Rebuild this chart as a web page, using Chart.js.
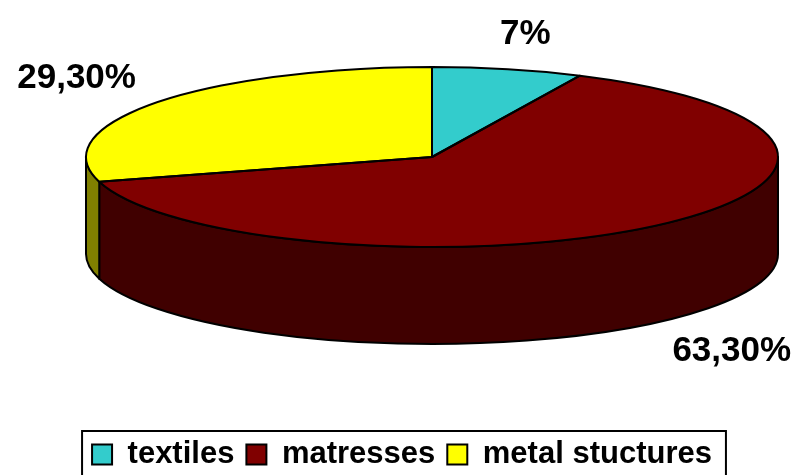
<!DOCTYPE html>
<html>
<head>
<meta charset="utf-8">
<script src="https://cdn.jsdelivr.net/npm/chart.js@4.4.1/dist/chart.umd.min.js"></script>
<style>
  html, body { margin: 0; padding: 0; background: #fff; }
  #wrap { width: 804px; height: 475px; position: relative; }
</style>
</head>
<body>
<div id="wrap"><canvas id="c"></canvas></div>
<script>
const labels = ['textiles', 'matresses', 'metal stuctures'];
const shares = [7, 63.3, 29.3];
const shareText = ['7%', '63,30%', '29,30%'];
const topColors = ['#33cccc', '#800000', '#ffff00'];
const sideColors = ['#1a6666', '#400000', '#808000'];

// 3d disc geometry (screen px)
const CX = 432, CY = 157, RX = 346, RY = 90, DEPTH = 97;
const LABEL_GAP_X = 55, LABEL_GAP_Y = 26;
const labelNudge = [[0, 2], [2, 0], [12, -2]];
const FONT = '"Liberation Sans", Arial, sans-serif';

// squash the library's pie into an ellipse and give it a side wall
const pie3d = {
  id: 'pie3d',
  beforeDatasetsDraw(chart) {
    const ctx = chart.ctx;
    const arcs = chart.getDatasetMeta(0).data;
    ctx.save();
    ctx.lineWidth = 2;
    ctx.strokeStyle = '#000';
    ctx.lineJoin = 'round';
    arcs.forEach((arc, i) => {
      const s = arc.startAngle, e = arc.endAngle;
      for (let k = -1; k <= 1; k++) {
        const lo = Math.max(s, 2 * Math.PI * k), hi = Math.min(e, 2 * Math.PI * k + Math.PI);
        if (hi <= lo) continue;
        ctx.beginPath();
        ctx.ellipse(CX, CY, RX, RY, 0, lo, hi);
        ctx.lineTo(CX + RX * Math.cos(hi), CY + DEPTH + RY * Math.sin(hi));
        ctx.ellipse(CX, CY + DEPTH, RX, RY, 0, hi, lo, true);
        ctx.closePath();
        ctx.fillStyle = sideColors[i];
        ctx.fill();
        ctx.stroke();
      }
    });
    ctx.restore();
    const a = arcs[0];
    ctx.save();
    ctx.translate(CX, CY);
    ctx.scale(RX / a.outerRadius, RY / a.outerRadius);
    ctx.translate(-a.x, -a.y);
  },
  afterDatasetsDraw(chart) {
    const ctx = chart.ctx;
    ctx.restore();
    const arcs = chart.getDatasetMeta(0).data;
    ctx.save();
    ctx.lineWidth = 2;
    ctx.strokeStyle = '#000';
    ctx.lineJoin = 'round';
    arcs.forEach(arc => {
      ctx.beginPath();
      ctx.moveTo(CX, CY);
      ctx.ellipse(CX, CY, RX, RY, 0, arc.startAngle, arc.endAngle);
      ctx.closePath();
      ctx.stroke();
    });
    ctx.font = 'bold 35px ' + FONT;
    ctx.fillStyle = '#000';
    ctx.textAlign = 'center';
    ctx.textBaseline = 'middle';
    arcs.forEach((arc, i) => {
      const m = (arc.startAngle + arc.endAngle) / 2;
      const c = Math.cos(m), s = Math.sin(m);
      const w = ctx.measureText(shareText[i]).width;
      const x = CX + RX * c + c * (LABEL_GAP_X + w / 2) + labelNudge[i][0];
      const y = CY + RY * s + (s > 0 ? DEPTH : 0) + s * (LABEL_GAP_Y + 12) + labelNudge[i][1];
      ctx.fillText(shareText[i], x, y);
    });
    ctx.restore();
  }
};

const legendFrame = {
  id: 'legendFrame',
  afterDraw(chart) {
    const boxes = chart.legend.legendHitBoxes;
    if (!boxes || !boxes.length) return;
    const ctx = chart.ctx;
    const left = Math.min(...boxes.map(b => b.left)) - 10;
    const right = Math.max(...boxes.map(b => b.left + b.width)) + 14;
    const top = Math.min(...boxes.map(b => b.top)) - 8;
    ctx.save();
    ctx.lineWidth = 2;
    ctx.strokeStyle = '#000';
    ctx.strokeRect(left, top, right - left, chart.height - top + 10);
    ctx.restore();
  }
};

new Chart(document.getElementById('c'), {
  type: 'pie',
  data: {
    labels: labels,
    datasets: [{
      data: shares,
      backgroundColor: topColors,
      borderWidth: 0,
      clip: false,
    }],
  },
  options: {
    responsive: true,
    maintainAspectRatio: false,
    animation: false,
    events: [],
    layout: { padding: { bottom: -5 } },
    plugins: {
      tooltip: { enabled: false },
      legend: {
        position: 'bottom',
        labels: {
          color: '#000',
          font: { family: FONT, size: 31, weight: 'bold' },
          boxWidth: 20,
          boxHeight: 20,
          padding: 12,
          generateLabels(chart) {
            return Chart.overrides.pie.plugins.legend.labels.generateLabels(chart)
              .map(l => ({ ...l, strokeStyle: '#000', lineWidth: 2 }));
          },
        },
      },
    },
  },
  plugins: [pie3d, legendFrame],
});
</script>
</body>
</html>
